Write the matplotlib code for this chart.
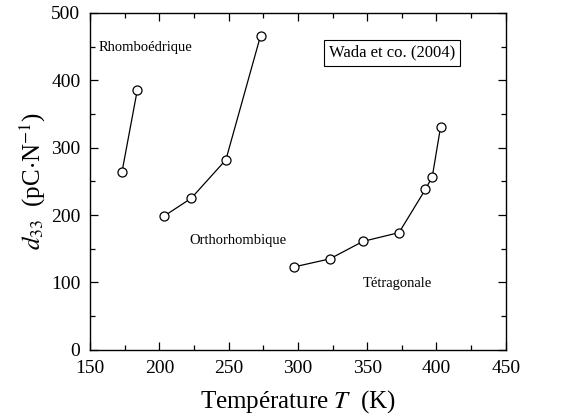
import matplotlib
matplotlib.use("Agg")
import matplotlib.pyplot as plt
from matplotlib.ticker import MultipleLocator

plt.rcParams["font.family"] = ["Liberation Serif", "DejaVu Serif"]
plt.rcParams["mathtext.fontset"] = "stix"

# ── data ──────────────────────────────────────────────────────────────────────
rhombo_T = [173, 184]
rhombo_d = [264, 385]
ortho_T = [203, 223, 248, 273]
ortho_d = [198, 225, 282, 466]
tetra_T = [297, 323, 347, 373, 392, 397, 403]
tetra_d = [123, 135, 161, 174, 238, 257, 331]

phase_names = ["Rhomboédrique", "Orthorhombique", "Tétragonale"]
phase_pos = [(156, 448), (222, 163), (347, 99)]

fig = plt.figure(figsize=(5.74, 4.18), dpi=100)
ax = fig.add_axes([0.157, 0.163, 0.724, 0.806])

for T, d in [(rhombo_T, rhombo_d), (ortho_T, ortho_d), (tetra_T, tetra_d)]:
    ax.plot(T, d, color="black", lw=0.9, marker="o", ms=6.5,
            mfc="white", mec="black", mew=0.9)

for name, (tx, ty) in zip(phase_names, phase_pos):
    ax.text(tx, ty, name, fontsize=10.5, va="center", ha="left")

ax.text(368, 441, "Wada et co. (2004)", fontsize=12, ha="center", va="center",
        bbox=dict(boxstyle="square,pad=0.3", fc="white", ec="black", lw=0.8))

ax.set_xlim(150, 450)
ax.set_ylim(0, 500)
ax.xaxis.set_major_locator(MultipleLocator(50))
ax.xaxis.set_minor_locator(MultipleLocator(25))
ax.yaxis.set_major_locator(MultipleLocator(100))
ax.yaxis.set_minor_locator(MultipleLocator(50))
ax.tick_params(which="both", direction="in", top=True, right=True,
               labelsize=14, width=0.9)
ax.tick_params(which="major", length=6)
ax.tick_params(which="minor", length=3.5)
ax.tick_params(axis="x", pad=7)
ax.tick_params(axis="y", pad=7)
for s in ax.spines.values():
    s.set_linewidth(1.0)

ax.set_xlabel(r"Température $T$  (K)", fontsize=18, labelpad=8)
ax.set_ylabel(r"$d_{33}$  (pC$\cdot$N$^{-1}$)", fontsize=18, labelpad=2)

fig.savefig("out.png", dpi=100)
